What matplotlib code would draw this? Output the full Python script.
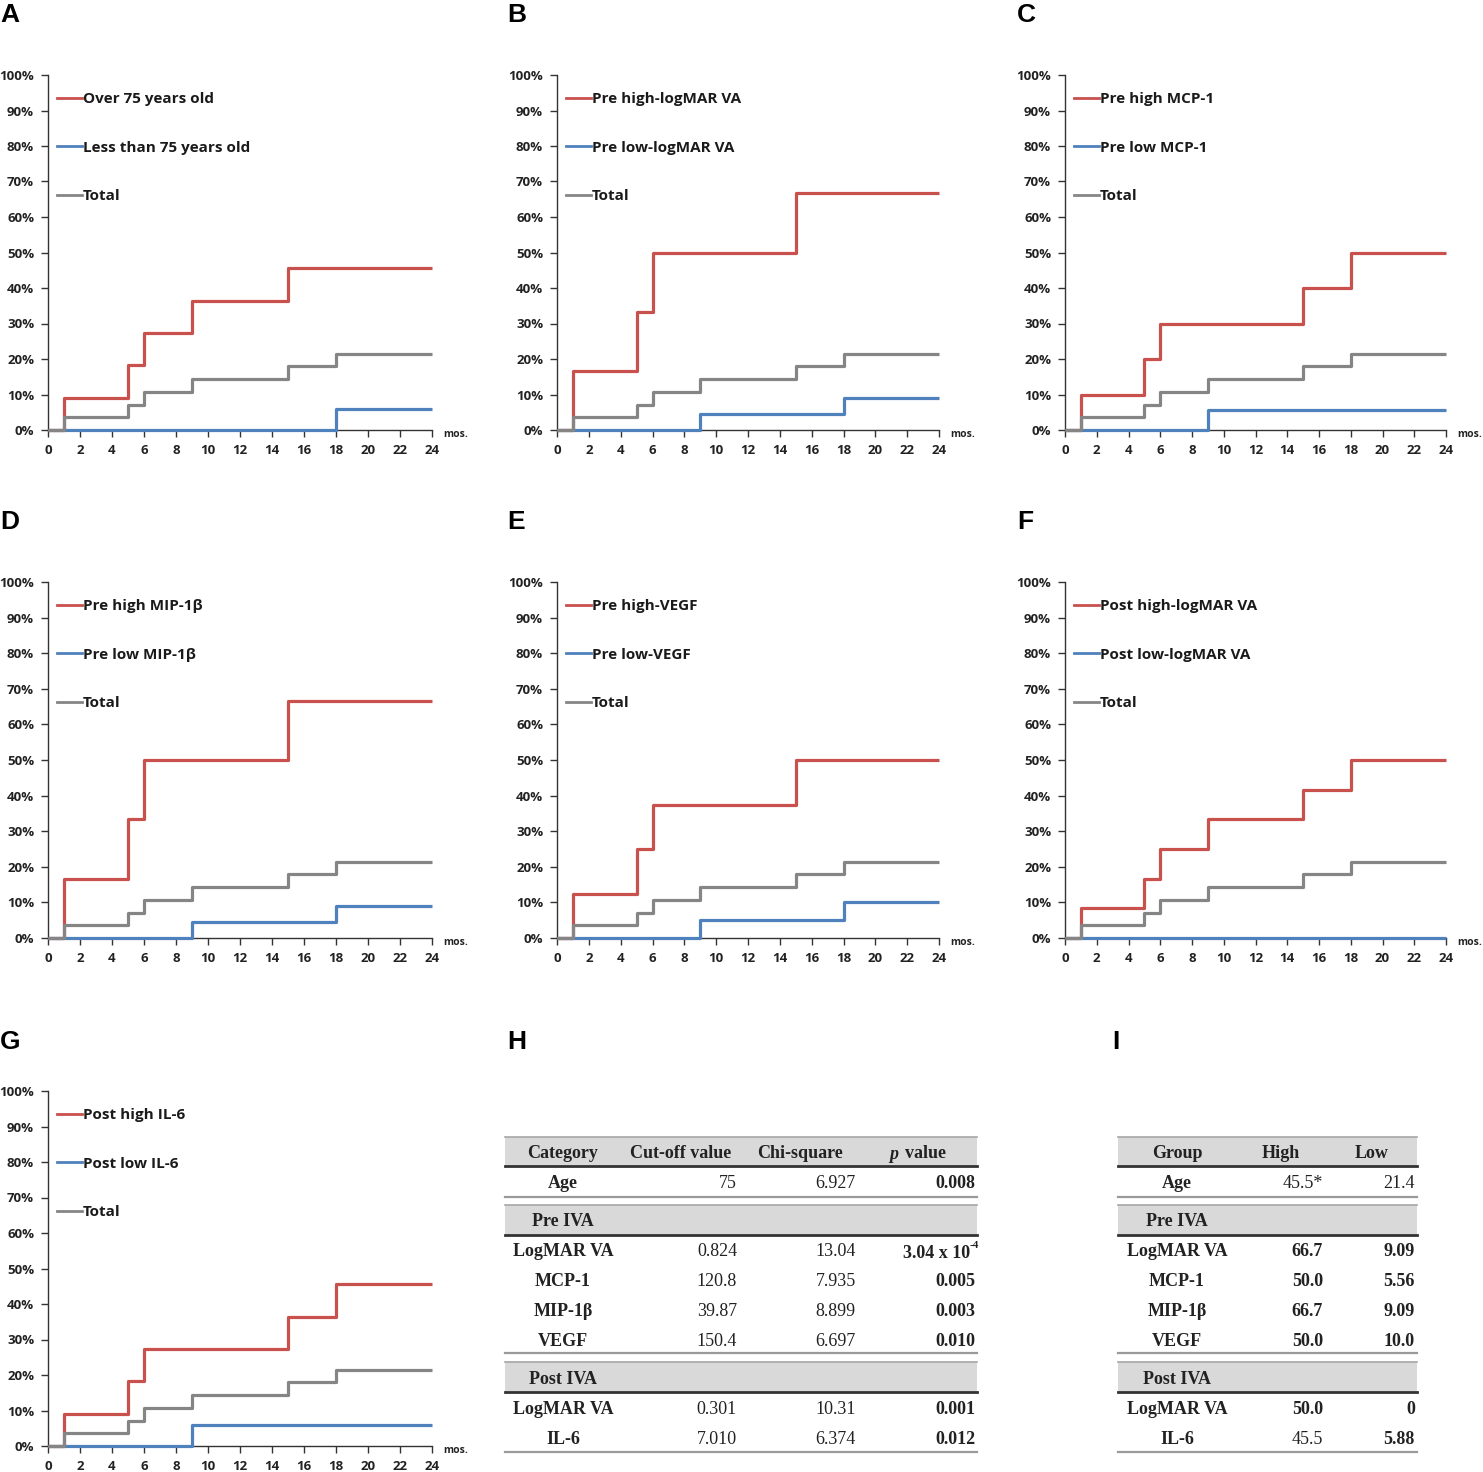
import matplotlib
matplotlib.use("Agg")
import matplotlib.pyplot as plt
from matplotlib.lines import Line2D

W, H = 1483, 1472
DPI = 100

# ---------------- data ----------------
total_x = [0, 1, 5, 6, 9, 15, 18, 24]
total_y = [0, 3.57, 7.14, 10.7, 14.3, 17.9, 21.4, 21.4]

panels = {
    "A": dict(hx=[0, 1, 5, 6, 9, 15, 24], hy=[0, 9.09, 18.2, 27.3, 36.4, 45.5, 45.5],
              lx=[0, 18, 24], ly=[0, 5.88, 5.88],
              labels=["Over 75 years old", "Less than 75 years old", "Total"]),
    "B": dict(hx=[0, 1, 5, 6, 15, 24], hy=[0, 16.7, 33.3, 50.0, 66.7, 66.7],
              lx=[0, 9, 18, 24], ly=[0, 4.55, 9.09, 9.09],
              labels=["Pre high-logMAR VA", "Pre low-logMAR VA", "Total"]),
    "C": dict(hx=[0, 1, 5, 6, 15, 18, 24], hy=[0, 10, 20, 30, 40, 50, 50],
              lx=[0, 9, 24], ly=[0, 5.56, 5.56],
              labels=["Pre high MCP-1", "Pre low MCP-1", "Total"]),
    "D": dict(hx=[0, 1, 5, 6, 15, 24], hy=[0, 16.7, 33.3, 50.0, 66.7, 66.7],
              lx=[0, 9, 18, 24], ly=[0, 4.55, 9.09, 9.09],
              labels=["Pre high MIP-1β", "Pre low MIP-1β", "Total"]),
    "E": dict(hx=[0, 1, 5, 6, 15, 24], hy=[0, 12.5, 25.0, 37.5, 50.0, 50.0],
              lx=[0, 9, 18, 24], ly=[0, 5.0, 10.0, 10.0],
              labels=["Pre high-VEGF", "Pre low-VEGF", "Total"]),
    "F": dict(hx=[0, 1, 5, 6, 9, 15, 18, 24], hy=[0, 8.33, 16.7, 25.0, 33.3, 41.7, 50.0, 50.0],
              lx=[0, 24], ly=[0, 0],
              labels=["Post high-logMAR VA", "Post low-logMAR VA", "Total"]),
    "G": dict(hx=[0, 1, 5, 6, 15, 18, 24], hy=[0, 9.09, 18.2, 27.3, 36.4, 45.5, 45.5],
              lx=[0, 9, 24], ly=[0, 5.88, 5.88],
              labels=["Post high IL-6", "Post low IL-6", "Total"]),
}

x_ticks = list(range(0, 25, 2))
y_ticks = list(range(0, 101, 10))
y_tick_labels = [f"{v}%" for v in y_ticks]

# Table H
h_header = ["Category", "Cut-off value", "Chi-square", "value"]
h_labels = ["Age", "LogMAR VA", "MCP-1", "MIP-1β", "VEGF", "LogMAR VA", "IL-6"]
h_cutoff = ["75", "0.824", "120.8", "39.87", "150.4", "0.301", "7.010"]
h_chi = ["6.927", "13.04", "7.935", "8.899", "6.697", "10.31", "6.374"]
h_p = ["0.008", "3.04 x 10", "0.005", "0.003", "0.010", "0.001", "0.012"]
h_p_sup = ["", "-4", "", "", "", "", ""]
sections = ["Pre IVA", "Post IVA"]

# Table I
i_header = ["Group", "High", "Low"]
i_high = ["45.5*", "66.7", "50.0", "66.7", "50.0", "50.0", "45.5"]
i_low = ["21.4", "9.09", "5.56", "9.09", "10.0", "0", "5.88"]
i_high_bold = [False, True, True, True, True, True, False]
i_low_bold = [False, True, True, True, True, True, True]

# ---------------- style ----------------
RED = "#C8504D"
BLUE = "#4F81BD"
GRAY = "#858585"
SANS = ["Open Sans", "DejaVu Sans"]
SERIF = ["Liberation Serif", "DejaVu Serif"]

fig = plt.figure(figsize=(W / DPI, H / DPI), dpi=DPI)


def px_axes(x0, y0, x1, y1):
    return fig.add_axes([x0 / W, 1 - y1 / H, (x1 - x0) / W, (y1 - y0) / H])


cols = [(48, 432), (557, 939), (1065, 1446)]
rows = [(75, 430), (582, 938), (1091, 1446)]
layout = {"A": (0, 0), "B": (0, 1), "C": (0, 2),
          "D": (1, 0), "E": (1, 1), "F": (1, 2), "G": (2, 0)}

for key, (r, c) in layout.items():
    p = panels[key]
    x0, x1 = cols[c]
    y0, y1 = rows[r]
    ax = px_axes(x0, y0, x1, y1)
    lines = [
        ax.plot(p["hx"], p["hy"], drawstyle="steps-post", color=RED, lw=2.3, zorder=3)[0],
        ax.plot(p["lx"], p["ly"], drawstyle="steps-post", color=BLUE, lw=2.3, zorder=4)[0],
        ax.plot(total_x, total_y, drawstyle="steps-post", color=GRAY, lw=2.3, zorder=5)[0],
    ]
    for ln in lines:
        ln.set_clip_on(False)
        ln.set_solid_capstyle("butt")
    ax.set_xlim(0, 24)
    ax.set_ylim(0, 100)
    for s in ("top", "right"):
        ax.spines[s].set_visible(False)
    for s in ("left", "bottom"):
        ax.spines[s].set_color("#333333")
        ax.spines[s].set_linewidth(1.0)
    ax.set_xticks(x_ticks)
    ax.set_yticks(y_ticks)
    ax.set_yticklabels(y_tick_labels)
    ax.tick_params(axis="both", direction="out", length=5, width=1.0, color="#333333",
                   labelsize=9.5, pad=5)
    for lab in ax.get_xticklabels() + ax.get_yticklabels():
        lab.set_family(SANS)
        lab.set_fontweight("bold")
        lab.set_color("#222222")
    ax.annotate("mos.", xy=(1, 0), xycoords="axes fraction", xytext=(8, -3),
                textcoords="offset points", ha="left", va="center",
                fontsize=7.5, fontweight="bold", family=SANS, color="#222222")
    hfrac = (y1 - y0)
    leg = ax.legend([Line2D([], [], color=RED, lw=2.0),
                     Line2D([], [], color=BLUE, lw=2.0),
                     Line2D([], [], color=GRAY, lw=2.0)],
                    p["labels"], loc="upper left",
                    bbox_to_anchor=(0, 1 - 8 / hfrac),
                    frameon=False, handlelength=1.63, handletextpad=0.05,
                    labelspacing=2.25, borderaxespad=0.0, borderpad=0.6,
                    prop=dict(family=SANS, weight="bold", size=11))
    for t in leg.get_texts():
        t.set_color("#1a1a1a")

# panel letters
letters = {"A": (0, 15), "B": (507, 15), "C": (1017, 15),
           "D": (0, 522), "E": (507, 522), "F": (1017, 522),
           "G": (0, 1042), "H": (507, 1042), "I": (1112, 1042)}
for k, (x, y) in letters.items():
    fig.text(x / W, 1 - y / H, k, fontsize=19, fontweight="bold",
             family=["Liberation Sans", "DejaVu Sans"], ha="left", va="center")

# ---------------- tables ----------------
tab = fig.add_axes([0, 0, 1, 1], zorder=-1)
tab.set_xlim(0, W)
tab.set_ylim(H, 0)
tab.axis("off")

TFS = 13
DARK = "#222222"


def band(xa, xb, ya, yb):
    tab.fill_between([xa, xb], ya, yb, color="#D9D9D9", lw=0)
    tab.plot([xa, xb], [ya, ya], color="#A6A6A6", lw=1.2)
    tab.plot([xa, xb], [yb, yb], color="#333333", lw=2.0)


def thin(xa, xb, y):
    tab.plot([xa, xb], [y, y], color="#9A9A9A", lw=1.6)


def txt(x, y, s, ha="center", bold=False, italic=False, size=TFS):
    tab.text(x, y, s, ha=ha, va="center", fontsize=size, family=SERIF,
             fontweight="bold" if bold else "normal",
             fontstyle="italic" if italic else "normal", color=DARK)


header_y = (1137, 1166)
age_y = 1184
line1 = 1197
pre_band = (1205, 1235)
pre_rows = [1252, 1282, 1311, 1341]
line2 = 1353
post_band = (1362, 1392)
post_rows = [1410, 1440]
line3 = 1452
row_ys = [age_y] + pre_rows + post_rows

for (xa, xb) in [(505, 977), (1118, 1417)]:
    band(xa, xb, *header_y)
    thin(xa, xb, line1)
    band(xa, xb, *pre_band)
    thin(xa, xb, line2)
    band(xa, xb, *post_band)
    thin(xa, xb, line3)

# Table H text
hy = (header_y[0] + header_y[1]) / 2 + 2
txt(563, hy, h_header[0], bold=True)
txt(681, hy, h_header[1], bold=True)
txt(800, hy, h_header[2], bold=True)
txt(898, hy + 1, "p", ha="right", bold=True, italic=True)
txt(905, hy, h_header[3], ha="left", bold=True)
txt(563, (pre_band[0] + pre_band[1]) / 2 + 2, sections[0], bold=True)
txt(563, (post_band[0] + post_band[1]) / 2 + 2, sections[1], bold=True)
for i, y in enumerate(row_ys):
    txt(563, y, h_labels[i], bold=True)
    txt(737, y, h_cutoff[i], ha="right")
    txt(856, y, h_chi[i], ha="right")
    if h_p_sup[i]:
        txt(970, y + 1, h_p[i], ha="right", bold=True)
        txt(970, y - 7, h_p_sup[i], ha="left", bold=True, size=8)
    else:
        txt(975, y, h_p[i], ha="right", bold=True)

# Table I text
txt(1177, hy, i_header[0], bold=True)
txt(1281, hy, i_header[1], bold=True)
txt(1372, hy, i_header[2], bold=True)
txt(1177, (pre_band[0] + pre_band[1]) / 2 + 2, sections[0], bold=True)
txt(1177, (post_band[0] + post_band[1]) / 2 + 2, sections[1], bold=True)
for i, y in enumerate(row_ys):
    txt(1177, y, h_labels[i], bold=True)
    txt(1323, y, i_high[i], ha="right", bold=i_high_bold[i])
    txt(1415, y, i_low[i], ha="right", bold=i_low_bold[i])

fig.savefig("out.png", dpi=DPI)
